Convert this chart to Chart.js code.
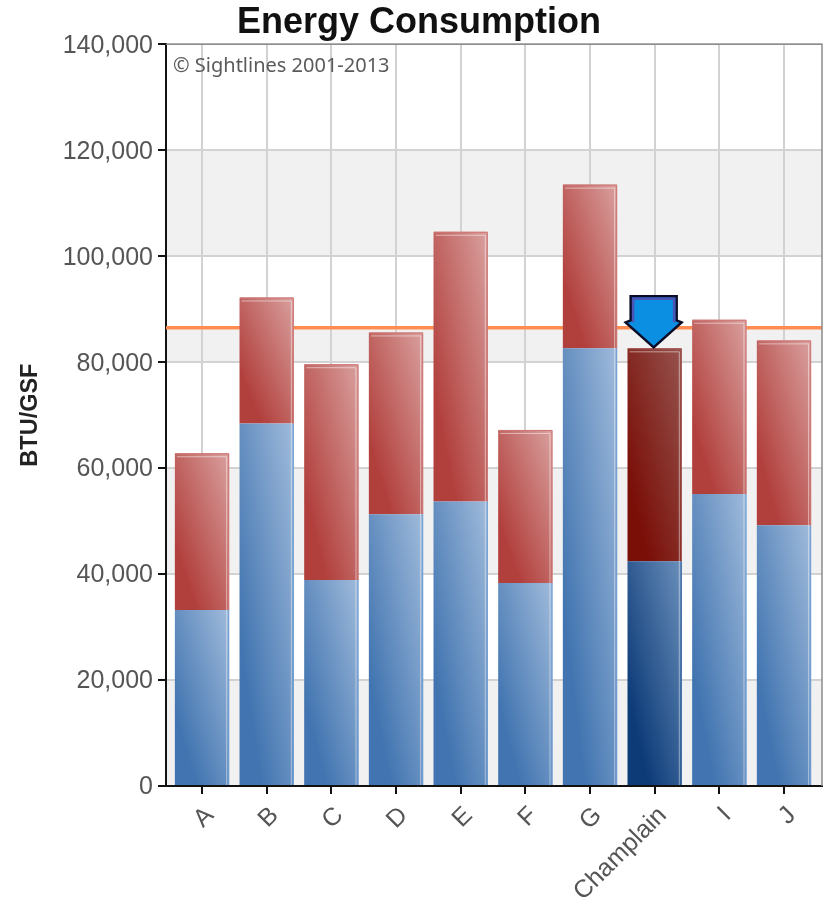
<!DOCTYPE html>
<html>
<head>
<meta charset="utf-8">
<title>Energy Consumption</title>
<script src="https://cdn.jsdelivr.net/npm/chart.js@4"></script>
<style>
    html, body { margin: 0; padding: 0; background: #fff; }
    #wrap { width: 825px; height: 904px; }
</style>
</head>
<body>
<div id="wrap"><canvas id="energyChart" width="825" height="904"></canvas></div>
<script>
const categories = ['A', 'B', 'C', 'D', 'E', 'F', 'G', 'Champlain', 'I', 'J'];
const lowerValues = [33200, 68400, 38900, 51300, 53700, 38300, 82600, 42400, 55100, 49200];
const upperValues = [29600, 23800, 40700, 34300, 50900, 28900, 30900, 40200, 32900, 34900];
const yTicks = [0, 20000, 40000, 60000, 80000, 100000, 120000, 140000];
const shadedBands = [[0, 20000], [40000, 60000], [80000, 86500], [100000, 120000]];
const benchmark = 86500;
const highlighted = 'Champlain';
const xMin = -0.557;
const xMax = 9.588;

const fontFamily = '"Liberation Sans", Arial, sans-serif';
const barShare = 0.84;

// diagonal fill, dark at bottom left and light at top right of each segment
function segmentFill(context, colors) {
    const chart = context.chart;
    const i = context.dataIndex;
    if (!chart.chartArea || i === undefined) return colors.normal[0];
    const xs = chart.scales.x;
    const ys = chart.scales.y;
    const isUpper = context.datasetIndex === 1;
    const base = isUpper ? lowerValues[i] : 0;
    const top = isUpper ? lowerValues[i] + upperValues[i] : lowerValues[i];
    const w = (xs.getPixelForValue(1) - xs.getPixelForValue(0)) * barShare;
    const h = ys.getPixelForValue(base) - ys.getPixelForValue(top);
    const left = xs.getPixelForValue(i) - w / 2;
    const bottom = ys.getPixelForValue(base);
    const c = 2 / (1 / (w * w) + 1 / (h * h));
    const g = chart.ctx.createLinearGradient(left, bottom, left + c / w, bottom - c / h);
    const stops = categories[i] === highlighted ? colors.dark : colors.normal;
    g.addColorStop(0, stops[0]);
    g.addColorStop(0.2, stops[0]);
    g.addColorStop(1, stops[1]);
    return g;
}

const redColors = { normal: ['#b13f3c', '#d9a09e'], dark: ['#7a0f08', '#96534e'] };
const blueColors = { normal: ['#4174b0', '#a0bbdb'], dark: ['#0d3b78', '#6a8fbb'] };

const bandsPlugin = {
    id: 'bands',
    beforeDraw(chart) {
        const { ctx, chartArea, scales } = chart;
        ctx.save();
        ctx.fillStyle = '#f1f1f1';
        shadedBands.forEach(b => {
            const y1 = scales.y.getPixelForValue(b[1]);
            const y0 = scales.y.getPixelForValue(b[0]);
            ctx.fillRect(chartArea.left, y1, chartArea.width, y0 - y1);
        });
        ctx.restore();
    }
};

const barEdgesPlugin = {
    id: 'barEdges',
    afterDatasetsDraw(chart) {
        const ctx = chart.ctx;
        ctx.save();
        [0, 1].forEach(d => {
            chart.getDatasetMeta(d).data.forEach((bar, i) => {
                const dark = categories[i] === highlighted;
                const l = bar.x - bar.width / 2;
                const r = bar.x + bar.width / 2;
                ctx.lineWidth = 1;
                if (d === 1) {
                    ctx.strokeStyle = dark ? '#a85a56' : '#cf7775';
                    ctx.beginPath();
                    ctx.moveTo(l + 0.5, bar.y + 0.5);
                    ctx.lineTo(r - 0.5, bar.y + 0.5);
                    ctx.lineTo(r - 0.5, bar.base);
                    ctx.stroke();
                    ctx.strokeStyle = 'rgba(255,255,255,0.5)';
                    ctx.beginPath();
                    ctx.moveTo(l + 2, bar.y + 3.5);
                    ctx.lineTo(r - 2.5, bar.y + 3.5);
                    ctx.lineTo(r - 2.5, bar.base);
                    ctx.stroke();
                } else {
                    ctx.strokeStyle = dark ? '#3d6ea8' : '#6f9fd6';
                    ctx.beginPath();
                    ctx.moveTo(r - 0.5, bar.y);
                    ctx.lineTo(r - 0.5, bar.base);
                    ctx.stroke();
                    ctx.strokeStyle = 'rgba(255,255,255,0.45)';
                    ctx.beginPath();
                    ctx.moveTo(r - 2.5, bar.y);
                    ctx.lineTo(r - 2.5, bar.base);
                    ctx.stroke();
                }
            });
        });
        ctx.restore();
    }
};

// arrow marking the highlighted school, tip sits on top of its bar
const arrowPlugin = {
    id: 'arrow',
    afterDatasetsDraw(chart) {
        const ctx = chart.ctx;
        const bar = chart.getDatasetMeta(1).data[categories.indexOf(highlighted)];
        const x = bar.x - 1;
        const tip = bar.y - 1;
        ctx.save();
        ctx.beginPath();
        ctx.moveTo(x, tip);
        ctx.lineTo(x - 28, tip - 25);
        ctx.lineTo(x - 23, tip - 27);
        ctx.lineTo(x - 23, tip - 51);
        ctx.lineTo(x + 23, tip - 51);
        ctx.lineTo(x + 23, tip - 27);
        ctx.lineTo(x + 28, tip - 25);
        ctx.closePath();
        ctx.fillStyle = '#0a8fe2';
        ctx.fill();
        ctx.lineWidth = 2.5;
        ctx.strokeStyle = '#0c0c28';
        ctx.stroke();
        ctx.strokeStyle = '#4a55b5';
        ctx.lineWidth = 2.5;
        ctx.beginPath();
        ctx.moveTo(x - 20.5, tip - 25);
        ctx.lineTo(x - 20.5, tip - 48.5);
        ctx.lineTo(x + 20.5, tip - 48.5);
        ctx.lineTo(x + 20.5, tip - 25);
        ctx.stroke();
        ctx.restore();
    }
};

const framePlugin = {
    id: 'frame',
    afterDraw(chart) {
        const { ctx, chartArea } = chart;
        ctx.save();
        ctx.strokeStyle = '#8c8c8c';
        ctx.lineWidth = 1.5;
        ctx.beginPath();
        ctx.moveTo(chartArea.left, chartArea.top);
        ctx.lineTo(chartArea.right, chartArea.top);
        ctx.lineTo(chartArea.right, chartArea.bottom);
        ctx.stroke();
        ctx.fillStyle = '#5a5a5a';
        ctx.font = '20px "Noto Sans", sans-serif';
        ctx.textBaseline = 'alphabetic';
        ctx.fillText('© Sightlines 2001-2013', chartArea.left + 7, chartArea.top + 28);
        ctx.restore();
    }
};

Chart.defaults.font.family = fontFamily;

const energyChart = new Chart(document.getElementById('energyChart').getContext('2d'), {
    data: {
        datasets: [
            {
                type: 'bar',
                label: 'Lower',
                data: categories.map((c, i) => ({ x: i, y: lowerValues[i] })),
                backgroundColor: ctx => segmentFill(ctx, blueColors),
                barPercentage: barShare,
                categoryPercentage: 1,
                order: 1
            },
            {
                type: 'bar',
                label: 'Upper',
                data: categories.map((c, i) => ({ x: i, y: upperValues[i] })),
                backgroundColor: ctx => segmentFill(ctx, redColors),
                barPercentage: barShare,
                categoryPercentage: 1,
                order: 1
            },
            {
                type: 'line',
                label: 'Benchmark',
                data: [{ x: xMin, y: benchmark }, { x: xMax, y: benchmark }],
                borderColor: '#ff8d52',
                borderWidth: 3.5,
                pointRadius: 0,
                order: 2
            }
        ]
    },
    options: {
        responsive: false,
        animation: false,
        layout: { padding: { top: 0, right: 3, bottom: 0, left: 16 } },
        plugins: {
            legend: { display: false },
            tooltip: { enabled: false },
            title: {
                display: true,
                text: 'Energy Consumption',
                color: '#111',
                font: { size: 36, weight: 'bold', lineHeight: 1.1 },
                padding: { top: 3.6, bottom: 1 }
            }
        },
        scales: {
            x: {
                type: 'linear',
                offset: false,
                stacked: true,
                min: xMin,
                max: xMax,
                afterBuildTicks: scale => {
                    scale.ticks = categories.map((c, i) => ({ value: i }));
                },
                afterFit: scale => { scale.height = 118; },
                grid: { offset: false, color: '#d2d2d2', lineWidth: 2, tickColor: '#111', tickLength: 8, tickWidth: 2 },
                border: { color: '#111', width: 2 },
                ticks: {
                    autoSkip: false,
                    minRotation: 45,
                    maxRotation: 45,
                    color: '#555',
                    font: { size: 25 },
                    padding: 7,
                    labelOffset: 8,
                    callback: value => categories[value]
                }
            },
            y: {
                stacked: true,
                min: 0,
                max: 140000,
                afterBuildTicks: scale => {
                    scale.ticks = yTicks.map(v => ({ value: v }));
                },
                afterFit: scale => { scale.width = 150; },
                grid: { color: '#d2d2d2', lineWidth: 2, tickColor: '#111', tickLength: 8, tickWidth: 2 },
                border: { color: '#111', width: 2 },
                title: {
                    display: true,
                    text: 'BTU/GSF',
                    color: '#222',
                    font: { size: 23.5, weight: 'bold' },
                    padding: { top: 0, bottom: 0 }
                },
                ticks: {
                    color: '#555',
                    font: { size: 25 },
                    padding: 5,
                    labelOffset: 1.5,
                    callback: value => value.toLocaleString('en-US')
                }
            }
        }
    },
    plugins: [bandsPlugin, barEdgesPlugin, arrowPlugin, framePlugin]
});
</script>
</body>
</html>
